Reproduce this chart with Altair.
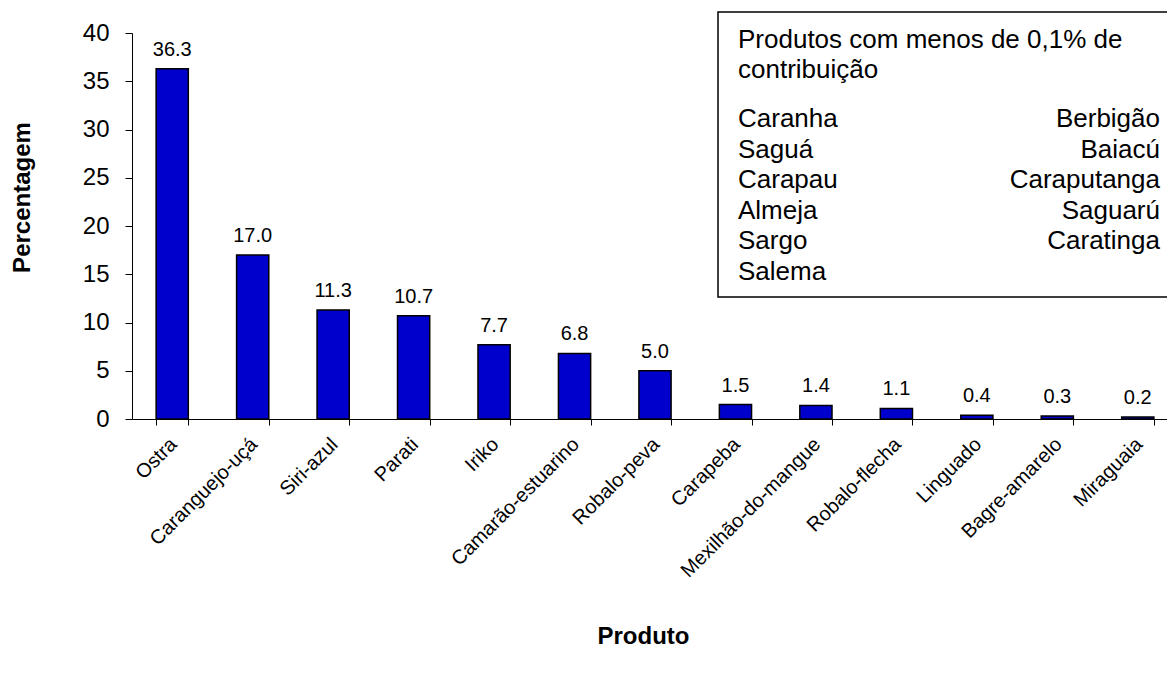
import altair as alt
import pandas as pd

produtos = ["Ostra", "Caranguejo-uçá", "Siri-azul", "Parati", "Iriko",
            "Camarão-estuarino", "Robalo-peva", "Carapeba", "Mexilhão-do-mangue",
            "Robalo-flecha", "Linguado", "Bagre-amarelo", "Miraguaia"]
percentagem = [36.3, 17.0, 11.3, 10.7, 7.7, 6.8, 5.0, 1.5, 1.4, 1.1, 0.4, 0.3, 0.2]

legenda_titulo = ["Produtos com menos de 0,1% de", "contribuição"]
legenda_esq = ["Caranha", "Saguá", "Carapau", "Almeja", "Sargo", "Salema"]
legenda_dir = ["Berbigão", "Baiacú", "Caraputanga", "Saguarú", "Caratinga"]

FONT = "Liberation Sans"

df = pd.DataFrame({"Produto": produtos, "Percentagem": percentagem})

x_enc = alt.X(
    "Produto:N", sort=produtos,
    scale=alt.Scale(range=[0, 1046], paddingInner=0.6, paddingOuter=0.3),
    axis=alt.Axis(
        title="Produto", labelAngle=-45, labelAlign="right", labelBaseline="middle",
        labelFontSize=20, labelFont=FONT, labelColor="black", labelPadding=16,
        labelOffset=1, labelLimit=400,
        tickBand="extent", tickColor="black", tickSize=6, domainColor="black",
        titleFont=FONT, titleFontSize=24, titleFontWeight="bold", titleColor="black",
        titleX=511, titleY=217, titleBaseline="middle", titleAnchor="middle",
    ),
)
y_enc = alt.Y(
    "Percentagem:Q",
    scale=alt.Scale(domain=[0, 40], nice=False),
    axis=alt.Axis(
        title="Percentagem", values=[0, 5, 10, 15, 20, 25, 30, 35, 40], grid=False,
        labelFontSize=24, labelFont=FONT, labelColor="black", labelPadding=16,
        tickColor="black", tickSize=7, domainColor="black",
        titleFont=FONT, titleFontSize=24, titleFontWeight="bold", titleColor="black",
        titleX=-110, titleY=164, titleBaseline="middle", titleAngle=-90,
    ),
)

base = alt.Chart(df)
bars = base.mark_bar(color="#0000CC", stroke="black", strokeWidth=1.5).encode(x=x_enc, y=y_enc)
labels = base.mark_text(font=FONT, fontSize=20, color="black", baseline="alphabetic", dy=-13).encode(
    x=alt.X("Produto:N", sort=produtos), y="Percentagem:Q",
    text=alt.Text("Percentagem:Q", format=".1f"),
)

box_df = pd.DataFrame({"k": [0]})
box = alt.Chart(box_df).mark_rect(fill="white", stroke="black", strokeWidth=1.5).encode(
    x=alt.value(586), x2=alt.value(1100), y=alt.value(-21), y2=alt.value(264)
)
titulo = alt.Chart(box_df).mark_text(
    font=FONT, fontSize=26, align="left", baseline="alphabetic", lineBreak="\n", lineHeight=30
).encode(x=alt.value(606), y=alt.value(15), text=alt.value("\n".join(legenda_titulo)))
esq = alt.Chart(box_df).mark_text(
    font=FONT, fontSize=26, align="left", baseline="alphabetic", lineBreak="\n", lineHeight=30.5
).encode(x=alt.value(606), y=alt.value(94), text=alt.value("\n".join(legenda_esq)))
dir_ = alt.Chart(box_df).mark_text(
    font=FONT, fontSize=26, align="right", baseline="alphabetic", lineBreak="\n", lineHeight=30.5
).encode(x=alt.value(1028), y=alt.value(94), text=alt.value("\n".join(legenda_dir)))

chart = alt.layer(bars, labels, box, titulo, esq, dir_).properties(
    width=1035, height=386,
    autosize=alt.AutoSizeParams(type="none"),
    padding={"left": 132, "top": 33, "right": 0, "bottom": 254},
    background="white",
).configure_view(stroke=None)

chart.save("out.html", embed_options={"renderer": "svg", "actions": False})
